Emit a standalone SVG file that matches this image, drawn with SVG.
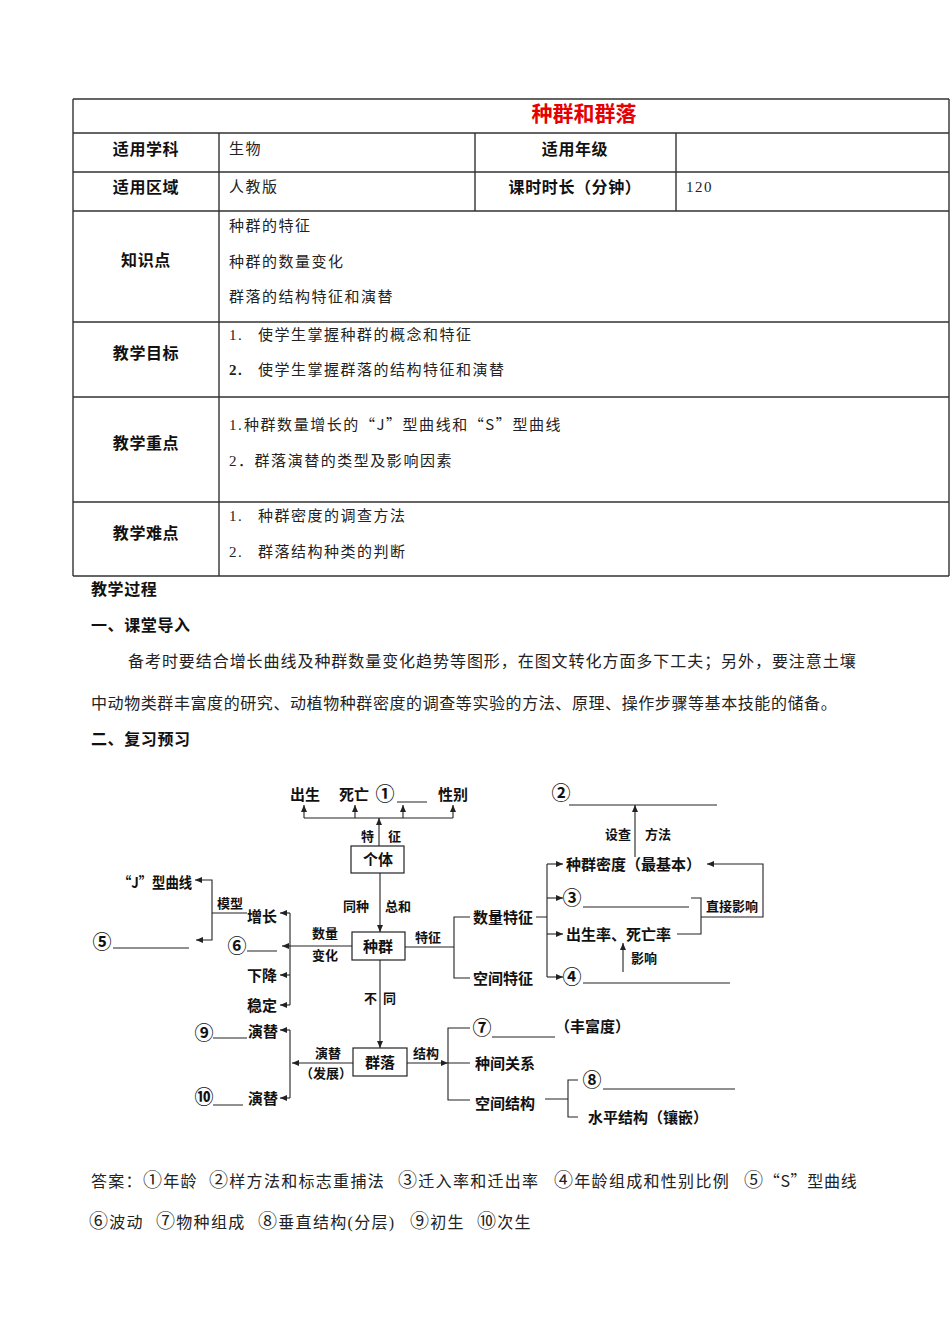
<svg xmlns="http://www.w3.org/2000/svg" width="950" height="1344" viewBox="0 0 950 1344">
<defs>
<style>
text{font-family:"Noto Sans CJK SC","Noto Sans",sans-serif;fill:#111}
.c{font-family:"Liberation Serif","Noto Sans CJK SC",serif;font-size:15px;letter-spacing:1.5px;fill:#222}
.h{font-size:16px;font-weight:bold;letter-spacing:0.6px}
.p{font-family:"Liberation Serif","Noto Sans CJK SC",serif;font-size:16px;letter-spacing:1.3px;fill:#222}
.cj{font-family:"Noto Sans CJK SC",sans-serif}
.d{font-size:15px;font-weight:bold}
.s{font-size:13px;font-weight:bold}
.n{font-size:19px;font-weight:bold;text-anchor:middle}
.q{font-family:"Noto Sans CJK SC",sans-serif;font-size:19px}
.tl{stroke:#333;stroke-width:1.4;fill:none}
.ln{stroke:#222;stroke-width:1.1;fill:none}
.ar{stroke:#222;stroke-width:1.1;fill:none;marker-end:url(#ah)}
.bx{fill:#fff;stroke:#222;stroke-width:1.2}
</style>
<marker id="ah" viewBox="0 0 7 6" refX="7" refY="3" markerWidth="7" markerHeight="6" markerUnits="userSpaceOnUse" orient="auto"><path d="M0,0 L7,3 L0,6 z" fill="#222"/></marker>
</defs>
<rect width="950" height="1344" fill="#fff"/>

<g id="table">
<path class="tl" d="M73,99H949M73,133H949M73,172H949M73,211H949M73,322H949M73,397H949M73,502H949M73,576H949M73,99V576M949,99V576M219,133V576M475,133V211M676,133V211"/>
<text x="584" y="121" text-anchor="middle" style="font-size:21px;font-weight:bold;fill:#e60000">种群和群落</text>
<text class="h" x="146" y="155" text-anchor="middle">适用学科</text>
<text class="c" x="229" y="154">生物</text>
<text class="h" x="575" y="155" text-anchor="middle">适用年级</text>
<text class="h" x="146" y="193" text-anchor="middle">适用区域</text>
<text class="c" x="229" y="192">人教版</text>
<text class="h" x="575" y="193" text-anchor="middle">课时时长（分钟）</text>
<text class="c" x="686" y="192">120</text>
<text class="h" x="146" y="266" text-anchor="middle">知识点</text>
<text class="c" x="229" y="231">种群的特征</text>
<text class="c" x="229" y="267">种群的数量变化</text>
<text class="c" x="229" y="302">群落的结构特征和演替</text>
<text class="h" x="146" y="359" text-anchor="middle">教学目标</text>
<text class="c" x="229" y="340">1.</text><text class="c" x="258" y="340">使学生掌握种群的概念和特征</text>
<text class="c" x="229" y="375" style="font-weight:bold">2.</text><text class="c" x="258" y="375">使学生掌握群落的结构特征和演替</text>
<text class="h" x="146" y="449" text-anchor="middle">教学重点</text>
<text class="c" x="229" y="430">1.</text><text class="c" x="244" y="430" style="font-family:'Noto Sans CJK SC',sans-serif" textLength="318" lengthAdjust="spacing">种群数量增长的“J”型曲线和“S”型曲线</text>
<text class="c" x="229" y="466" textLength="224" lengthAdjust="spacing">2．群落演替的类型及影响因素</text>
<text class="h" x="146" y="539" text-anchor="middle">教学难点</text>
<text class="c" x="229" y="521">1.</text><text class="c" x="258" y="521">种群密度的调查方法</text>
<text class="c" x="229" y="557">2.</text><text class="c" x="258" y="557">群落结构种类的判断</text>
</g>

<g id="intro">
<text class="h" x="91" y="595">教学过程</text>
<text class="h" x="91" y="631">一、课堂导入</text>
<text class="p" x="128" y="667" textLength="729" lengthAdjust="spacing">备考时要结合增长曲线及种群数量变化趋势等图形，在图文转化方面多下工夫；另外，要注意土壤</text>
<text class="p" x="91" y="709" textLength="747" lengthAdjust="spacing">中动物类群丰富度的研究、动植物种群密度的调查等实验的方法、原理、操作步骤等基本技能的储备。</text>
<text class="h" x="91" y="745">二、复习预习</text>
</g>

<g id="connectors">
<path class="ln" d="M304,818H453"/>
<path class="ar" d="M304,818V805"/>
<path class="ar" d="M355,818V805"/>
<path class="ar" d="M403,818V805"/>
<path class="ar" d="M453,818V805"/>
<path class="ar" d="M379,846V818"/>
<path class="ar" d="M380,873V932"/>
<path class="ar" d="M352,946H282"/>
<path class="ln" d="M405,947H454M470,917H454V978H470"/>
<path class="ln" d="M536,917H547M547,864V977"/>
<path class="ar" d="M547,864H563"/>
<path class="ar" d="M547,898H563"/>
<path class="ar" d="M547,934H563"/>
<path class="ar" d="M547,977H563"/>
<path class="ar" d="M635,857V805"/>
<path class="ar" d="M701,917H763V864H707"/>
<path class="ln" d="M691,898H701V934H677"/>
<path class="ar" d="M623,972V943"/>
<path class="ln" d="M247,913H212"/>
<path class="ar" d="M212,913V880H195"/>
<path class="ar" d="M212,913V940H196"/>
<path class="ln" d="M290,913V1005"/>
<path class="ar" d="M290,913H280"/>
<path class="ar" d="M290,975H280"/>
<path class="ar" d="M290,1005H280"/>
<path class="ar" d="M380,960V1048"/>
<path class="ar" d="M353,1063H292"/>
<path class="ln" d="M290,1030V1098"/>
<path class="ar" d="M290,1030H280"/>
<path class="ar" d="M290,1098H280"/>
<path class="ar" d="M407,1063H448"/>
<path class="ln" d="M470,1028H448V1100H470M448,1063H470"/>
<path class="ln" d="M545,1099H568M578,1080H568V1117H578"/>
</g>

<g id="blanks">
<path class="ln" d="M397,802H427M569,805H717M583,907H689M583,983H730M113,948H189M247,951H277M213,1038H247M213,1105H243M492,1037H555M603,1089H735"/>
</g>

<g id="n-top">
<text class="d" x="290" y="800">出生</text>
<text class="d" x="339" y="800">死亡</text>
<text class="n" x="385" y="801">①</text>
<text class="d" x="438" y="800">性别</text>
<text class="s" x="361" y="841">特</text>
<text class="s" x="388" y="841">征</text>
</g>
<g id="n-individual">
<rect class="bx" x="351" y="846" width="53" height="27"/>
<text class="d" x="378" y="865" text-anchor="middle">个体</text>
</g>
<g id="n-labels-mid">
<text class="s" x="343" y="911">同种</text>
<text class="s" x="385" y="911">总和</text>
<text class="s" x="312" y="938">数量</text>
<text class="s" x="312" y="960">变化</text>
<text class="s" x="415" y="942">特征</text>
<text class="s" x="364" y="1003">不</text>
<text class="s" x="383" y="1003">同</text>
</g>
<g id="n-population">
<rect class="bx" x="352" y="932" width="53" height="28"/>
<text class="d" x="378" y="952" text-anchor="middle">种群</text>
</g>
<g id="n-quantity">
<text class="d" x="473" y="923">数量特征</text>
<text class="d" x="473" y="984">空间特征</text>
</g>
<g id="n-density">
<text class="n" x="561" y="800">②</text>
<text class="s" x="605" y="839">设查</text>
<text class="s" x="645" y="839">方法</text>
<text class="d" x="566" y="870">种群密度（最基本）</text>
<text class="n" x="572" y="905">③</text>
<text class="s" x="706" y="911">直接影响</text>
<text class="d" x="566" y="940">出生率、死亡率</text>
<text class="s" x="631" y="963">影响</text>
<text class="n" x="572" y="984">④</text>
</g>
<g id="n-change">
<text class="d" x="118" y="888" textLength="74" lengthAdjust="spacingAndGlyphs">“J”型曲线</text>
<text class="s" x="217" y="908">模型</text>
<text class="n" x="102" y="949">⑤</text>
<text class="d" x="247" y="922">增长</text>
<text class="n" x="237" y="953">⑥</text>
<text class="d" x="247" y="981">下降</text>
<text class="d" x="247" y="1011">稳定</text>
</g>
<g id="n-succession">
<text class="n" x="204" y="1040">⑨</text>
<text class="d" x="248" y="1037">演替</text>
<text class="n" x="204" y="1104">⑩</text>
<text class="d" x="248" y="1104">演替</text>
<text class="s" x="315" y="1058">演替</text>
<text class="s" x="300" y="1078">（发展）</text>
</g>
<g id="n-community">
<rect class="bx" x="353" y="1048" width="54" height="28"/>
<text class="d" x="380" y="1068" text-anchor="middle">群落</text>
<text class="s" x="413" y="1058">结构</text>
</g>
<g id="n-structure">
<text class="n" x="482" y="1035">⑦</text>
<text class="d" x="555" y="1032">（丰富度）</text>
<text class="d" x="475" y="1069">种间关系</text>
<text class="d" x="475" y="1109">空间结构</text>
<text class="n" x="592" y="1087">⑧</text>
<text class="d" x="588" y="1123">水平结构（镶嵌）</text>
</g>

<g id="answers">
<text class="p" x="91" y="1187">答案：<tspan class="q">①</tspan>年龄</text>
<text class="p" x="209" y="1187"><tspan class="q">②</tspan>样方法和标志重捕法</text>
<text class="p" x="398" y="1187"><tspan class="q">③</tspan>迁入率和迁出率</text>
<text class="p" x="554" y="1187"><tspan class="q">④</tspan>年龄组成和性别比例</text>
<text class="p" x="744" y="1187" style="font-family:'Noto Sans CJK SC',sans-serif" textLength="114" lengthAdjust="spacing"><tspan class="q">⑤</tspan>“S”型曲线</text>
<text class="p" x="89" y="1228"><tspan class="q">⑥</tspan>波动</text>
<text class="p" x="156" y="1228"><tspan class="q">⑦</tspan>物种组成</text>
<text class="p" x="258" y="1228"><tspan class="q">⑧</tspan>垂直结构(分层)</text>
<text class="p" x="410" y="1228"><tspan class="q">⑨</tspan>初生</text>
<text class="p" x="477" y="1228"><tspan class="q">⑩</tspan>次生</text>
</g>
</svg>
